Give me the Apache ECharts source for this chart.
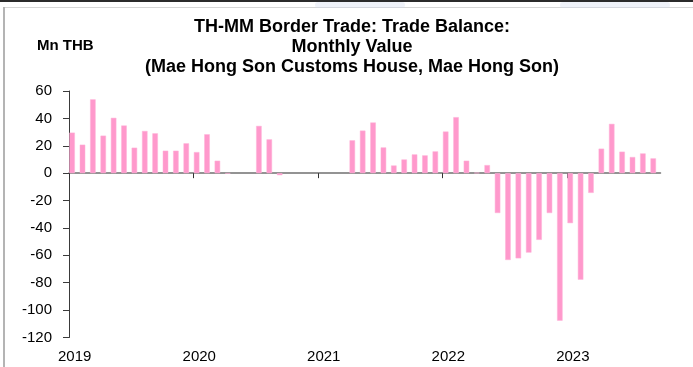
<!DOCTYPE html>
<html>
<head>
<meta charset="utf-8">
<script src="https://cdn.jsdelivr.net/npm/echarts@6/dist/echarts.min.js"></script>
<style>
  html, body { margin: 0; padding: 0; background: #ffffff; }
  #chart { width: 693px; height: 367px; }
</style>
</head>
<body>
<div id="chart"></div>
<script>
// Monthly trade balance, Mae Hong Son Customs House (Mn THB), Jan 2019 – Sep 2023
const months = [
  '2019-01','2019-02','2019-03','2019-04','2019-05','2019-06','2019-07','2019-08','2019-09','2019-10','2019-11','2019-12',
  '2020-01','2020-02','2020-03','2020-04','2020-05','2020-06','2020-07','2020-08','2020-09','2020-10','2020-11','2020-12',
  '2021-01','2021-02','2021-03','2021-04','2021-05','2021-06','2021-07','2021-08','2021-09','2021-10','2021-11','2021-12',
  '2022-01','2022-02','2022-03','2022-04','2022-05','2022-06','2022-07','2022-08','2022-09','2022-10','2022-11','2022-12',
  '2023-01','2023-02','2023-03','2023-04','2023-05','2023-06','2023-07','2023-08','2023-09'
];
const tradeBalance = [
  29.6, 20.8, 53.9, 27.4, 40.4, 34.8, 18.6, 30.8, 29.1, 16.4, 16.4, 21.8,
  15.4, 28.4, 9.1, -0.3, null, null, 34.5, 24.7, -1.5, null, null, null,
  null, null, null, 24.0, 31.1, 37.0, 18.8, 5.6, 10.0, 13.7, 13.0, 15.9,
  30.4, 40.9, 9.1, 0.3, 5.9, -29.1, -63.4, -62.2, -58.0, -48.7, -29.1, -107.7,
  -36.5, -77.8, -14.4, 17.9, 36.0, 15.7, 11.8, 14.4, 10.8
];
const yearLabels = ['2019', '2020', '2021', '2022', '2023'];
const yTicks = [-120, -100, -80, -60, -40, -20, 0, 20, 40, 60];

// x runs in months from 1 Jan 2019; a month's bar sits a little past its start
const BAR_SHIFT = 0.3;
const LABEL_SHIFT = 0.55;
const barData = tradeBalance.map((v, i) => [i + BAR_SHIFT, v]);
const yearStarts = yearLabels.map((_, k) => k * 12);
const yearLabelPos = yearLabels.map((_, k) => k * 12 + LABEL_SHIFT);

const FONT = '"Liberation Sans", Arial, sans-serif';

const chart = echarts.init(document.getElementById('chart'), null, { renderer: 'canvas' });

chart.setOption({
  backgroundColor: '#ffffff',
  animation: false,
  title: {
    text: 'TH-MM Border Trade: Trade Balance:\nMonthly Value\n(Mae Hong Son Customs House, Mae Hong Son)',
    left: 352,
    top: 17,
    padding: 0,
    textAlign: 'center',
    textStyle: {
      fontFamily: FONT,
      fontWeight: 'bold',
      fontSize: 18,
      lineHeight: 20,
      color: '#000000'
    }
  },
  graphic: [
    // outer frame pieces
    { type: 'rect', shape: { x: 0, y: 0, width: 693, height: 2 }, style: { fill: '#2b2b2b' }, silent: true },
    { type: 'rect', shape: { x: 3, y: 0, width: 1.5, height: 2 }, style: { fill: '#2b2b2b' }, silent: true },
    { type: 'rect', shape: { x: 3, y: 7, width: 690, height: 1 }, style: { fill: '#d6d6d6' }, silent: true },
    { type: 'rect', shape: { x: 3, y: 7, width: 2, height: 360 }, style: { fill: '#b4b4b4' }, silent: true },
    { type: 'rect', shape: { x: 315, y: 2, width: 90, height: 6, r: 3 }, style: { fill: 'rgba(210,218,238,0.35)' }, silent: true },
    { type: 'rect', shape: { x: 560, y: 2, width: 110, height: 6, r: 3 }, style: { fill: 'rgba(210,218,238,0.35)' }, silent: true },
    {
      type: 'text',
      left: 37,
      top: 38,
      style: { text: 'Mn THB', font: 'bold 15px ' + FONT, fill: '#000000' },
      silent: true
    }
  ],
  grid: {
    left: 69,
    right: 32.5,
    top: 91,
    bottom: 29.5,
    containLabel: false
  },
  xAxis: [
    {
      // zero line with year ticks
      type: 'value',
      min: 0,
      max: months.length,
      interval: 12,
      axisLine: { show: true, onZero: true, lineStyle: { color: '#707070', width: 1.5 } },
      axisTick: { show: true, customValues: yearStarts, length: 5, inside: false, lineStyle: { color: '#333333', width: 1 } },
      axisLabel: { show: false },
      splitLine: { show: false }
    },
    {
      // year labels along the bottom
      type: 'value',
      position: 'bottom',
      min: 0,
      max: months.length,
      interval: 12,
      axisLine: { show: false, onZero: false },
      axisTick: { show: false },
      axisLabel: {
        show: true,
        customValues: yearLabelPos,
        margin: 12,
        fontFamily: FONT,
        fontSize: 15,
        color: '#000000',
        formatter: (v) => yearLabels[Math.round((v - LABEL_SHIFT) / 12)]
      },
      splitLine: { show: false }
    }
  ],
  yAxis: {
    type: 'value',
    min: yTicks[0],
    max: yTicks[yTicks.length - 1],
    interval: 20,
    axisLine: { show: true, onZero: false, lineStyle: { color: '#3a3a3a', width: 1 } },
    axisTick: { show: true, length: 6, inside: false, lineStyle: { color: '#3a3a3a' } },
    axisLabel: {
      margin: 17,
      fontFamily: FONT,
      fontSize: 15,
      color: '#000000'
    },
    splitLine: { show: false }
  },
  series: [
    {
      name: 'Trade Balance',
      type: 'bar',
      xAxisIndex: 0,
      yAxisIndex: 0,
      data: barData,
      barWidth: 5.5,
      itemStyle: { color: '#ff99cc', borderColor: '#ffb3d9', borderWidth: 0.5 },
      z: 1
    }
  ]
});
</script>
</body>
</html>
